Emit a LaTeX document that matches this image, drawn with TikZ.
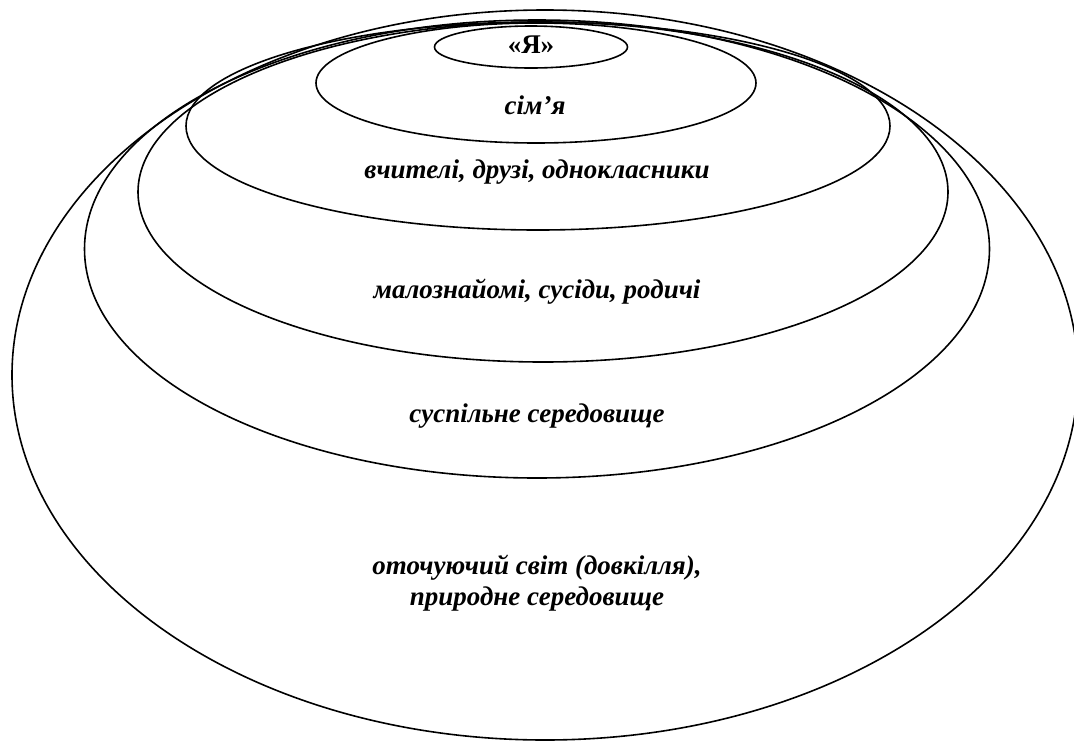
\documentclass[tikz,border=0pt]{standalone}
\usepackage{fontspec}
\setmainfont{Liberation Serif}
\usetikzlibrary{shapes.geometric}

\begin{document}
\begin{tikzpicture}[x=1pt,y=-1pt,
      ring/.style={ellipse,draw,line width=1.6pt,inner sep=0pt},
      lbl/.style={font=\fontsize{27}{31}\selectfont\bfseries\itshape,align=center}]
    \useasboundingbox (0,0) rectangle (1074,742);
    % nested circles, outer first
    \node[ring,minimum width=1066pt,minimum height=730pt] (svit) at (545,375) {};
    \node[ring,minimum width=905pt,minimum height=458pt] (susp) at (537,249) {};
    \node[ring,minimum width=810pt,minimum height=340pt] (malo) at (543,192) {};
    \node[ring,minimum width=704pt,minimum height=208pt] (vch) at (538,126) {};
    \node[ring,minimum width=440pt,minimum height=120pt] (sim) at (536,83) {};
    \node[ring,minimum width=193pt,minimum height=42pt] (ya) at (531,47) {};
    % labels
    \node[lbl,font=\fontsize{27}{31}\selectfont\bfseries] (tya) at (531,45) {«Я»};
    \node[lbl] (tsim) at (535,105) {сім’я};
    \node[lbl] (tvch) at (537,172) {вчителі, друзі, однокласники};
    \node[lbl] (tmalo) at (537,292) {малознайомі, сусіди, родичі};
    \node[lbl] (tsusp) at (537,416) {суспільне середовище};
    \node[lbl] (tsvit) at (537,583) {оточуючий світ (довкілля),\\природне середовище};
\end{tikzpicture}
\end{document}
